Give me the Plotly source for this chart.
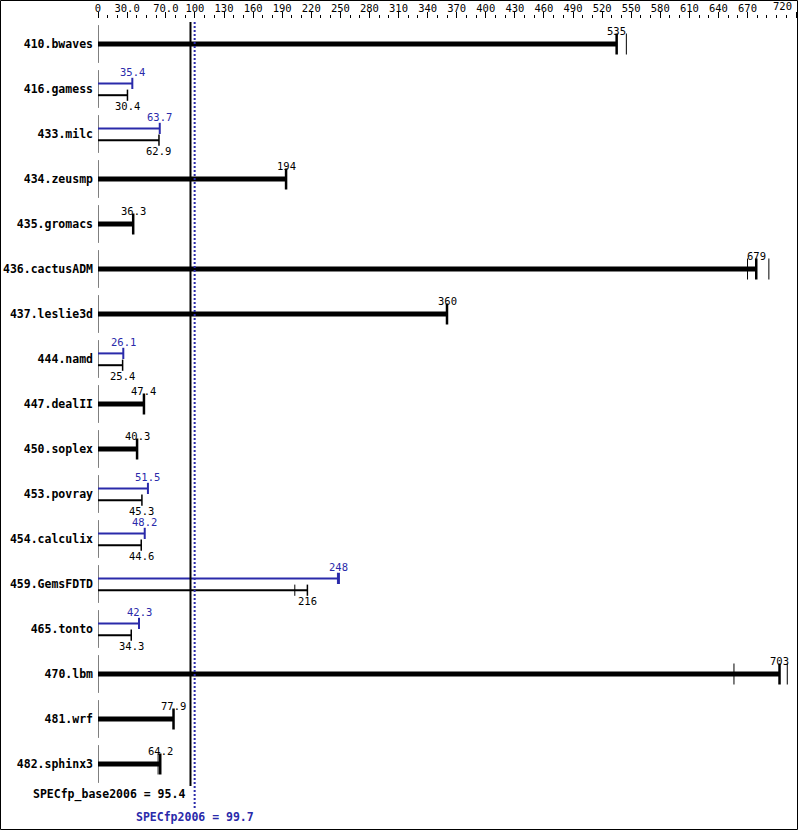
import plotly.graph_objects as go

# ---------------- data ----------------
benchmarks = ["410.bwaves", "416.gamess", "433.milc", "434.zeusmp", "435.gromacs",
              "436.cactusADM", "437.leslie3d", "444.namd", "447.dealII", "450.soplex",
              "453.povray", "454.calculix", "459.GemsFDTD", "465.tonto", "470.lbm",
              "481.wrf", "482.sphinx3"]
base_ratio = [535, 30.4, 62.9, 194, 36.3, 679, 360, 25.4, 47.4, 40.3,
              45.3, 44.6, 216, 34.3, 703, 77.9, 64.2]
peak_ratio = [None, 35.4, 63.7, None, None, None, None, 26.1, None, None,
              51.5, 48.2, 248, 42.3, None, None, None]
# individual run results (other than the median) shown as thin ticks
base_other_runs = [[545], [], [], [], [], [670, 692], [], [], [], [],
                   [], [], [203], [], [656, 711], [], [62.0]]
peak_other_runs = [[], [], [], [], [], [], [], [], [], [],
                   [], [], [247, 249], [], [], [], []]
base_mean = 95.4
peak_mean = 99.7
base_label = "SPECfp_base2006 = 95.4"
peak_label = "SPECfp2006 = 99.7"
tick_vals = [0, 30, 70] + list(range(100, 671, 30)) + [720]
tick_text = ["0", "30.0", "70.0"] + [str(v) for v in range(100, 671, 30)] + ["720"]

# ---------------- style ----------------
BLUE = "#2a2aaa"
BLACK = "#000000"
MONO = "DejaVu Sans Mono"
PX_ROW = 45.0           # pixels per row
L, R, T, B = 98, 3, 19, 0
W, H = 799, 831
plot_w = W - L - R
plot_h = H - T - B
row0_px = 44            # pixel centre of first row
y_top = (T - row0_px) / PX_ROW
y_bot = (H - B - row0_px) / PX_ROW

def dy(px):
    return px / PX_ROW

fig = go.Figure()
ann = []

rows = list(range(len(benchmarks)))

# baseline ticks at zero
fig.add_trace(go.Scatter(x=[0] * len(rows), y=rows, mode="markers",
                         marker=dict(symbol="line-ns", size=27,
                                     line=dict(width=1, color=BLACK)),
                         hoverinfo="skip", showlegend=False))

for i, name in enumerate(benchmarks):
    b = base_ratio[i]
    p = peak_ratio[i]
    if p is None:
        # single thick bar
        fig.add_trace(go.Scatter(x=[0, b], y=[i, i], mode="lines",
                                 line=dict(color=BLACK, width=5),
                                 hoverinfo="skip", showlegend=False))
        fig.add_trace(go.Scatter(x=[b], y=[i], mode="markers",
                                 marker=dict(symbol="line-ns", size=15,
                                             line=dict(width=2.5, color=BLACK)),
                                 hoverinfo="skip", showlegend=False))
        if base_other_runs[i]:
            fig.add_trace(go.Scatter(x=base_other_runs[i], y=[i] * len(base_other_runs[i]),
                                     mode="markers",
                                     marker=dict(symbol="line-ns", size=15,
                                                 line=dict(width=1, color=BLACK)),
                                     hoverinfo="skip", showlegend=False))
        ann.append(dict(x=b, y=i, text=str(b), showarrow=False, yshift=13.5,
                        font=dict(family=MONO, size=10.5, color=BLACK)))
    else:
        yp = i - dy(5.6)
        yb = i + dy(6.2)
        fig.add_trace(go.Scatter(x=[0, p], y=[yp, yp], mode="lines",
                                 line=dict(color=BLUE, width=2),
                                 hoverinfo="skip", showlegend=False))
        fig.add_trace(go.Scatter(x=[p], y=[yp], mode="markers",
                                 marker=dict(symbol="line-ns", size=8,
                                             line=dict(width=2, color=BLUE)),
                                 hoverinfo="skip", showlegend=False))
        if peak_other_runs[i]:
            fig.add_trace(go.Scatter(x=peak_other_runs[i], y=[yp] * len(peak_other_runs[i]),
                                     mode="markers",
                                     marker=dict(symbol="line-ns", size=8,
                                                 line=dict(width=1, color=BLUE)),
                                     hoverinfo="skip", showlegend=False))
        fig.add_trace(go.Scatter(x=[0, b], y=[yb, yb], mode="lines",
                                 line=dict(color=BLACK, width=2),
                                 hoverinfo="skip", showlegend=False))
        fig.add_trace(go.Scatter(x=[b], y=[yb], mode="markers",
                                 marker=dict(symbol="line-ns", size=8,
                                             line=dict(width=1.5, color=BLACK)),
                                 hoverinfo="skip", showlegend=False))
        if base_other_runs[i]:
            fig.add_trace(go.Scatter(x=base_other_runs[i], y=[yb] * len(base_other_runs[i]),
                                     mode="markers",
                                     marker=dict(symbol="line-ns", size=8,
                                                 line=dict(width=1, color=BLACK)),
                                     hoverinfo="skip", showlegend=False))
        ann.append(dict(x=p, y=i, text=str(p), showarrow=False, yshift=17,
                        font=dict(family=MONO, size=10.5, color=BLUE)))
        ann.append(dict(x=b, y=i, text=str(b), showarrow=False, yshift=-17,
                        font=dict(family=MONO, size=10.5, color=BLACK)))

# mean lines
fig.add_trace(go.Scatter(x=[base_mean, base_mean], y=[dy(22 - row0_px), dy(786 - row0_px)],
                         mode="lines", line=dict(color=BLACK, width=2),
                         hoverinfo="skip", showlegend=False))
fig.add_trace(go.Scatter(x=[peak_mean, peak_mean], y=[dy(22 - row0_px), dy(808 - row0_px)],
                         mode="lines", line=dict(color=BLUE, width=2, dash="2px,2px"),
                         hoverinfo="skip", showlegend=False))

ann.append(dict(x=base_mean, y=dy(794 - row0_px), text="<b>" + base_label + "</b>",
                showarrow=False, xanchor="right", xshift=-3,
                font=dict(family=MONO, size=11.5, color=BLACK)))
ann.append(dict(x=peak_mean, y=dy(817 - row0_px), text="<b>" + peak_label + "</b>",
                showarrow=False, xanchor="center",
                font=dict(family=MONO, size=11.5, color=BLUE)))

# last tick label drawn right-aligned so it stays inside the frame
axis_text = tick_text[:-1] + [""]
ann.append(dict(x=tick_vals[-1], y=1, yref="paper", yanchor="bottom", yshift=5,
                text=tick_text[-1], showarrow=False, xanchor="right", xshift=-2,
                font=dict(family=MONO, size=10.5, color=BLACK)))

# outer frame
fx0 = (0.5 - L) / plot_w
fx1 = (W - 1.5 - L) / plot_w
fy0 = (H - B - (H - 1.5)) / plot_h
fy1 = (H - B - 0.5) / plot_h

fig.update_layout(
    width=W, height=H,
    margin=dict(l=L, r=R, t=T, b=B, pad=0),
    paper_bgcolor="white", plot_bgcolor="white",
    showlegend=False,
    annotations=ann,
    shapes=[dict(type="rect", xref="paper", yref="paper", x0=fx0, x1=fx1, y0=fy0, y1=fy1,
                 line=dict(color=BLACK, width=1), layer="above")],
    xaxis=dict(side="top", range=[0, 720], tickvals=tick_vals, ticktext=axis_text,
               ticks="outside", ticklen=6, tickwidth=1, tickcolor=BLACK,
               minor=dict(dtick=10, tick0=0, ticks="outside", ticklen=3,
                          tickwidth=1, tickcolor=BLACK, showgrid=False),
               showgrid=False, zeroline=False, showline=False,
               ticklabelstandoff=-4,
               tickfont=dict(family=MONO, size=10.5, color=BLACK), fixedrange=True),
    yaxis=dict(range=[y_bot, y_top], tickvals=rows,
               ticktext=["<b>" + n + "</b>" for n in benchmarks],
               ticks="", showgrid=False, zeroline=False, showline=False,
               ticklabelstandoff=4,
               tickfont=dict(family=MONO, size=11.5, color=BLACK), fixedrange=True),
)

fig.write_html("out.html", config={"displayModeBar": False},
               post_script="document.body.style.margin='0';document.body.style.overflow='hidden';")
